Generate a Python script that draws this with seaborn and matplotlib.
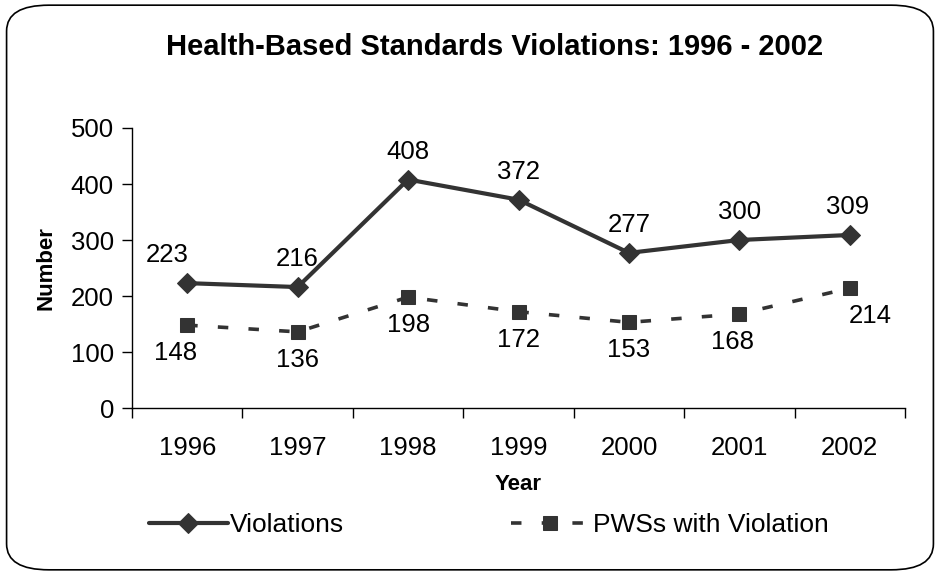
import matplotlib
matplotlib.use("Agg")
import matplotlib.pyplot as plt
import seaborn as sns
import numpy as np
import pandas as pd
from matplotlib.patches import FancyBboxPatch

years = ["1996", "1997", "1998", "1999", "2000", "2001", "2002"]
violations = [223, 216, 408, 372, 277, 300, 309]
pws_with_violation = [148, 136, 198, 172, 153, 168, 214]

# label offsets in pixels (dx, dy), Excel put a couple of them off-centre
viol_offsets = [(-20, 28), (0, 28), (0, 28), (0, 28), (0, 28), (0, 28), (-2, 28)]
pws_offsets = [(-12, -28), (0, -28), (0, -28), (0, -28), (0, -28), (-7, -28), (20, -28)]

sns.set_theme(style="white")
plt.rcParams["font.family"] = ["Liberation Sans", "DejaVu Sans"]
plt.rcParams.update({"text.color": "black", "axes.labelcolor": "black",
                     "xtick.color": "black", "ytick.color": "black"})

color = "#333333"
df = pd.DataFrame({"pos": np.arange(len(years)), "Violations": violations,
                   "PWSs with Violation": pws_with_violation})

fig = plt.figure(figsize=(9.4, 5.75), dpi=100)
ax = fig.add_axes([0.1404, 0.2904, 0.8224, 0.487])

sns.lineplot(data=df, x="pos", y="Violations", ax=ax, color=color, lw=3.0,
             marker="D", markersize=10, markeredgecolor=color, label="Violations")
sns.lineplot(data=df, x="pos", y="PWSs with Violation", ax=ax, color=color, lw=2.6,
             marker="s", markersize=10.5, markeredgecolor=color,
             linestyle=(0, (2.9, 5.6)), label="PWSs with Violation")

for i, (v, off) in enumerate(zip(violations, viol_offsets)):
    ax.annotate(str(v), (i, v), xytext=(off[0] * 0.72, off[1] * 0.72),
                textcoords="offset points", ha="center", va="center", fontsize=18.5)
for i, (v, off) in enumerate(zip(pws_with_violation, pws_offsets)):
    ax.annotate(str(v), (i, v), xytext=(off[0] * 0.72, off[1] * 0.72),
                textcoords="offset points", ha="center", va="center", fontsize=18.5)

ax.set_xlim(-0.5, len(years) - 0.5)
ax.set_ylim(0, 500)
ax.set_yticks(range(0, 501, 100))
ax.set_xticks(np.arange(len(years)))
ax.set_xticklabels(years)
ax.set_xticks(np.arange(-0.5, len(years)), minor=True)
ax.tick_params(axis="x", which="major", length=0, pad=20, labelsize=18.5)
ax.tick_params(axis="x", which="minor", length=7, width=1, color="black", direction="out", bottom=True)
ax.tick_params(axis="y", length=7, width=1, color="black", direction="out", left=True,
               labelsize=18.5, pad=6)

for side in ["top", "right"]:
    ax.spines[side].set_visible(False)
for side in ["left", "bottom"]:
    ax.spines[side].set_color("black")
    ax.spines[side].set_linewidth(1)

ax.set_xlabel("Year", fontsize=16, fontweight="bold", labelpad=10)
ax.set_ylabel("Number", fontsize=16, fontweight="bold", labelpad=10)

fig.suptitle("Health-Based Standards Violations: 1996 - 2002", x=0.526, y=0.942,
             fontsize=21, fontweight="bold")

ax.legend(loc="center left", bbox_to_anchor=(0.158, 0.087), bbox_transform=fig.transFigure,
          ncol=2, frameon=False, fontsize=19, handlelength=3.0, handletextpad=0.1,
          columnspacing=6.3, borderpad=0, borderaxespad=0)

box = FancyBboxPatch((0.007, 0.009), 0.986, 0.982, boxstyle="round,pad=0,rounding_size=0.045",
                     transform=fig.transFigure, fill=False, edgecolor="black", lw=1.2)
fig.patches.append(box)

fig.savefig("out.png", dpi=100)
